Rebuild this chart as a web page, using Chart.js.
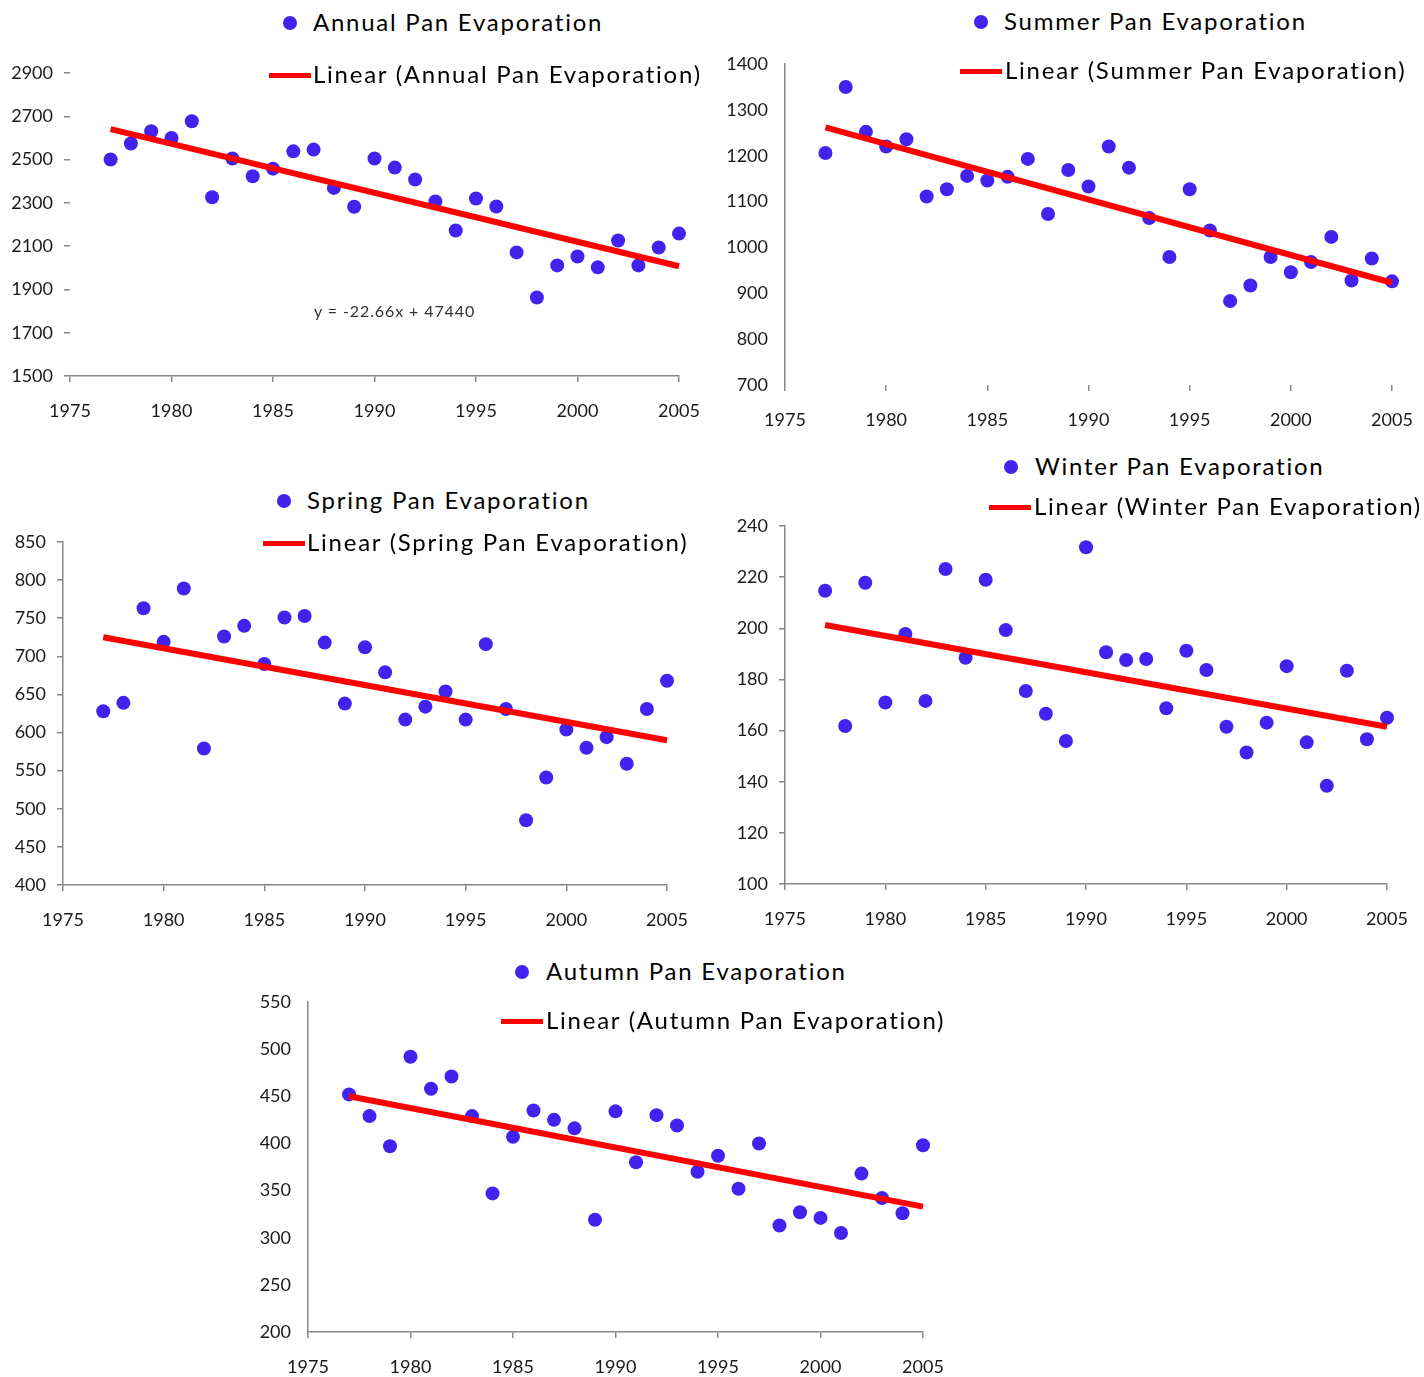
<!DOCTYPE html>
<html><head><meta charset="utf-8">
<script src="https://cdn.jsdelivr.net/npm/chart.js@4.4.1/dist/chart.umd.min.js"></script>
<style>
html,body{margin:0;padding:0;background:#fff;}
#page{position:relative;width:1424px;height:1377px;overflow:hidden;font-family:Lato,'Open Sans',sans-serif;background:#fff;}
.cv{position:absolute;}
.lg{position:absolute;white-space:nowrap;color:#000;letter-spacing:1.75px;}
.eq{position:absolute;white-space:nowrap;color:#333;font-size:16px;line-height:16px;letter-spacing:0.9px;}
</style></head><body><div id="page"></div>
<script>
// ---------- DATA ----------
const years = [1977,1978,1979,1980,1981,1982,1983,1984,1985,1986,1987,1988,1989,1990,1991,1992,1993,1994,1995,1996,1997,1998,1999,2000,2001,2002,2003,2004,2005];
const trendYears = [1977, 2005];
const xTicks = [1975, 1980, 1985, 1990, 1995, 2000, 2005];

const annualValues = [2500,2574,2631,2600,2677,2326,2505,2423,2458,2538,2546,2369,2282,2505,2463,2408,2306,2172,2320,2283,2071,1863,2011,2052,2002,2126,2011,2094,2158];
const annualTrend = [2641, 2007];

const summerValues = [1206,1350,1252,1220,1236,1111,1127,1156,1146,1154,1193,1073,1169,1133,1220,1174,1064,979,1127,1037,883,917,979,946,968,1023,928,976,926];
const summerTrend = [1262, 923];

const springValues = [628,639,763,719,789,579,726,740,690,751,753,718,638,712,679,617,634,654,617,716,631,485,541,604,580,594,559,631,668];
const springTrend = [725, 590];

const winterValues = [214.7,161.8,217.8,171,197.8,171.6,223.2,188.5,219,199.3,175.5,166.6,155.9,231.7,190.6,187.6,188,168.7,191.2,183.7,161.5,151.4,163.1,185.2,155.4,138.4,183.4,156.6,165];
const winterTrend = [201.3, 161.5];

const autumnValues = [452,429,397,492,458,471,429,347,407,435,425,416,319,434,380,430,419,370,387,352,400,313,327,321,305,368,342,326,398];
const autumnTrend = [450, 333];

const seriesNames = ['Annual Pan Evaporation','Summer Pan Evaporation','Spring Pan Evaporation','Winter Pan Evaporation','Autumn Pan Evaporation'];
const annualEquation = 'y = -22.66x + 47440';

const annualTicks = [1500,1700,1900,2100,2300,2500,2700,2900];
const summerTicks = [700,800,900,1000,1100,1200,1300,1400];
const springTicks = [400,450,500,550,600,650,700,750,800,850];
const winterTicks = [100,120,140,160,180,200,220,240];
const autumnTicks = [200,250,300,350,400,450,500,550];

// ---------- STYLE / LAYOUT ----------
const DOT = '#4422EE', RED = '#FF0000', AXIS = '#888888', TXT = '#1a1a1a';
const FONT = 'Lato, "Open Sans", sans-serif';
const TICK_FS = 18, LEG_FS = 24;
const YW = 60, PT = 15, PR = 32, XH = 55;

const panels = [
  {values: annualValues, trend: annualTrend, name: seriesNames[0], yt: annualTicks,
   plot:{l:70,t:73,r:679,b:376}, ax:{xB:true,yB:false,xT:true,yT:true},
   leg:{dot:[290,23], line:[269,75], t1:313, t2:313}},
  {values: summerValues, trend: summerTrend, name: seriesNames[1], yt: summerTicks,
   plot:{l:785,t:64,r:1392,b:385}, ax:{xB:false,yB:true,xT:true,yT:false},
   leg:{dot:[981,22], line:[960,71], t1:1004, t2:1005}},
  {values: springValues, trend: springTrend, name: seriesNames[2], yt: springTicks,
   plot:{l:63,t:542,r:667,b:885}, ax:{xB:true,yB:true,xT:true,yT:true},
   leg:{dot:[284,501], line:[263,543], t1:307, t2:307}},
  {values: winterValues, trend: winterTrend, name: seriesNames[3], yt: winterTicks,
   plot:{l:785,t:526,r:1387,b:884}, ax:{xB:true,yB:true,xT:true,yT:true},
   leg:{dot:[1011,467], line:[989,507], t1:1035, t2:1034}},
  {values: autumnValues, trend: autumnTrend, name: seriesNames[4], yt: autumnTicks,
   plot:{l:308,t:1002,r:923,b:1332}, ax:{xB:true,yB:true,xT:true,yT:false},
   leg:{dot:[522,972], line:[501,1021], t1:546, t2:546}}
];

const page = document.getElementById('page');

function addText(txt, x, cy, fs) {
  const d = document.createElement('div');
  d.className = 'lg';
  d.style.left = x + 'px';
  d.style.top = (cy - fs * 0.53) + 'px';
  d.style.fontSize = fs + 'px';
  d.style.lineHeight = fs + 'px';
  d.textContent = txt;
  page.appendChild(d);
}

function buildLegend(chart, p) {
  const ds = chart.data.datasets;
  const dot = document.createElement('div');
  dot.style.cssText = `position:absolute;left:${p.leg.dot[0]-7}px;top:${p.leg.dot[1]-7}px;width:14px;height:14px;border-radius:50%;background:${ds[0].backgroundColor};`;
  page.appendChild(dot);
  addText(ds[0].label, p.leg.t1, p.leg.dot[1], LEG_FS);
  const ln = document.createElement('div');
  ln.style.cssText = `position:absolute;left:${p.leg.line[0]}px;top:${p.leg.line[1]-2.5}px;width:42px;height:5px;background:${ds[1].borderColor};`;
  page.appendChild(ln);
  addText(ds[1].label, p.leg.t2, p.leg.line[1], LEG_FS);
}

const plain = v => String(v);

panels.forEach((p, i) => {
  const W = p.plot.r - p.plot.l + YW + PR;
  const H = p.plot.b - p.plot.t + PT + XH;
  const wrap = document.createElement('div');
  wrap.className = 'cv';
  wrap.style.left = (p.plot.l - YW) + 'px';
  wrap.style.top = (p.plot.t - PT) + 'px';
  wrap.style.width = W + 'px';
  wrap.style.height = H + 'px';
  const cv = document.createElement('canvas');
  cv.width = W; cv.height = H;
  cv.style.width = W + 'px'; cv.style.height = H + 'px';
  wrap.appendChild(cv);
  page.appendChild(wrap);

  const pts = years.map((y, k) => ({x: y, y: p.values[k]}));
  const tr = trendYears.map((y, k) => ({x: y, y: p.trend[k]}));
  const yt = p.yt;

  const chart = new Chart(cv, {
    type: 'scatter',
    data: {
      datasets: [
        {label: p.name, data: pts, backgroundColor: DOT, borderColor: DOT, pointRadius: 7, pointHoverRadius: 7, borderWidth: 0, order: 2, clip: false},
        {label: 'Linear (' + p.name + ')', type: 'line', data: tr, showLine: true, borderColor: RED, backgroundColor: RED, borderWidth: 6, pointRadius: 0, fill: false, order: 1, clip: false}
      ]
    },
    options: {
      responsive: false, animation: false, devicePixelRatio: 1,
      layout: {padding: {left: 0, top: PT, right: PR, bottom: 0}},
      plugins: {legend: {display: false}, tooltip: {enabled: false}},
      scales: {
        x: {
          type: 'linear', min: xTicks[0], max: xTicks[xTicks.length - 1],
          afterBuildTicks: s => { s.ticks = xTicks.map(v => ({value: v})); },
          ticks: {font: {family: FONT, size: TICK_FS}, color: TXT, padding: 18, maxRotation: 0, autoSkip: false, callback: plain},
          grid: {display: true, drawOnChartArea: false, drawTicks: true, tickLength: 6, color: p.ax.xT ? AXIS : 'rgba(0,0,0,0)', lineWidth: 1.5},
          border: {display: p.ax.xB, color: AXIS, width: 1.5},
          afterFit: s => { s.height = XH; s.paddingLeft = 0; s.paddingRight = 0; }
        },
        y: {
          type: 'linear', min: yt[0], max: yt[yt.length - 1],
          afterBuildTicks: s => { s.ticks = yt.map(v => ({value: v})); },
          ticks: {font: {family: FONT, size: TICK_FS}, color: TXT, padding: 11, autoSkip: false, callback: plain},
          grid: {display: true, drawOnChartArea: false, drawTicks: true, tickLength: 6, color: p.ax.yT ? AXIS : 'rgba(0,0,0,0)', lineWidth: 1.5},
          border: {display: p.ax.yB, color: AXIS, width: 1.5},
          afterFit: s => { s.width = YW; s.paddingTop = 0; s.paddingBottom = 0; }
        }
      }
    }
  });
  buildLegend(chart, p);
});

// trendline equation label (annual panel)
const eq = document.createElement('div');
eq.className = 'eq';
eq.style.left = '314px';
eq.style.top = '303px';
eq.textContent = annualEquation;
page.appendChild(eq);
</script>
</body></html>
